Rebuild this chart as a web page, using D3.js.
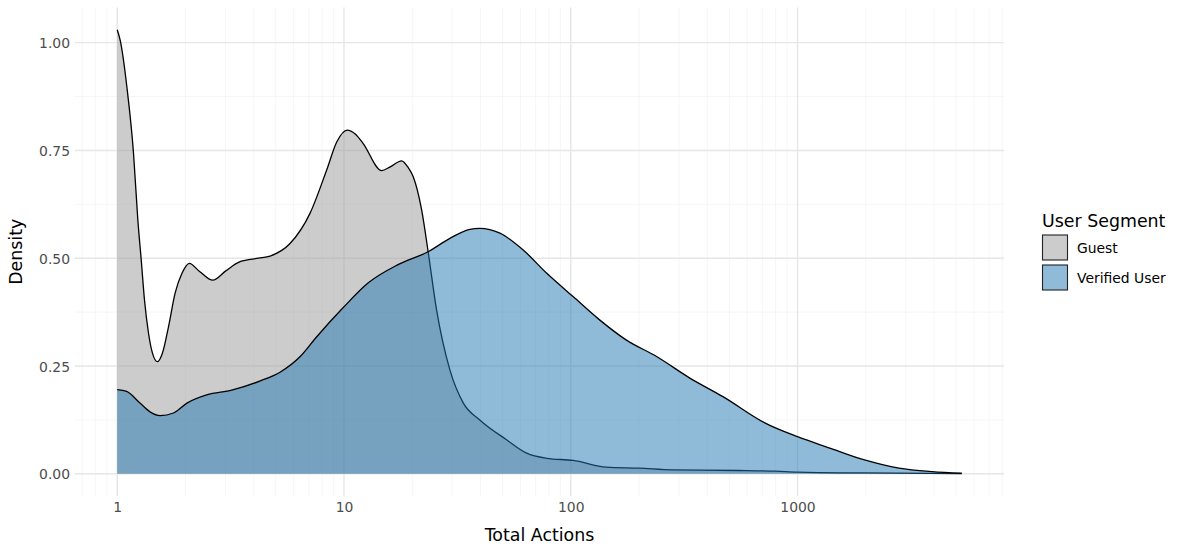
<!DOCTYPE html>
<html>
<head>
<meta charset="utf-8">
<script src="https://cdn.jsdelivr.net/npm/d3@7"></script>
<style>
  html, body { margin: 0; padding: 0; background: #ffffff; }
  svg { display: block; font-family: "DejaVu Sans", sans-serif; }
</style>
</head>
<body>
<svg id="chart" width="1181" height="550"></svg>
<script>
// ---- Data ----
const seriesNames = ["Guest", "Verified User"];
const seriesColors = ["#999999", "#1f77b4"];

const guestX = [1.0, 1.031, 1.103, 1.18, 1.233, 1.276, 1.319, 1.374, 1.43, 1.505, 1.583, 1.683, 1.80, 1.93, 2.08, 2.3, 2.64, 3.0, 3.48, 4.2, 4.72, 5.78, 7.08, 8.38, 9.3, 10.34, 11.2, 12.15, 14.66, 16.0, 17.96, 19.2, 20.2, 22.0, 23.5, 25.6, 29.3, 33.6, 39.7, 52.1, 63.9, 78.4, 102.4, 143.5, 200, 281, 551, 800, 1000, 2000, 5300];
const guestY = [1.030, 1.005, 0.897, 0.743, 0.588, 0.496, 0.403, 0.326, 0.280, 0.260, 0.280, 0.341, 0.419, 0.465, 0.488, 0.470, 0.449, 0.470, 0.492, 0.500, 0.505, 0.534, 0.604, 0.704, 0.770, 0.797, 0.788, 0.766, 0.703, 0.712, 0.726, 0.710, 0.689, 0.612, 0.515, 0.380, 0.241, 0.164, 0.125, 0.079, 0.048, 0.036, 0.031, 0.0155, 0.013, 0.009, 0.0076, 0.006, 0.004, 0.002, 0.0005];

const verifiedX = [1.0, 1.10, 1.26, 1.40, 1.546, 1.77, 2.03, 2.48, 3.2, 4.3, 5.2, 6.41, 7.5, 9.9, 12.8, 17.3, 23.5, 29.3, 35.9, 39.7, 48.7, 61.7, 78.4, 102.4, 134, 176, 239, 335, 469, 724, 1000, 1400, 1975, 2800, 3920, 5300];
const verifiedY = [0.195, 0.191, 0.164, 0.143, 0.135, 0.141, 0.164, 0.183, 0.194, 0.216, 0.235, 0.272, 0.315, 0.385, 0.443, 0.485, 0.515, 0.546, 0.567, 0.569, 0.558, 0.519, 0.465, 0.411, 0.357, 0.310, 0.272, 0.222, 0.179, 0.117, 0.086, 0.059, 0.032, 0.013, 0.005, 0.0015];

const xTicks = [1, 10, 100, 1000];
const xTickLabels = ["1", "10", "100", "1000"];
const yTicks = [0, 0.25, 0.5, 0.75, 1.0];
const yTickLabels = ["0.00", "0.25", "0.50", "0.75", "1.00"];
const xTitle = "Total Actions";
const yTitle = "Density";
const legendTitle = "User Segment";

// ---- Layout ----
const svg = d3.select("#chart");
const panel = { left: 75, right: 1004, top: 7.5, bottom: 496 };

const allX = guestX.concat(verifiedX);
const allY = guestY.concat(verifiedY);
const lx0 = Math.log10(d3.min(allX)), lx1 = Math.log10(d3.max(allX));
const xPad = (lx1 - lx0) * 0.05;
const x = d3.scaleLog()
  .domain([Math.pow(10, lx0 - xPad), Math.pow(10, lx1 + xPad)])
  .range([panel.left, panel.right]);

const yMax = d3.max(allY);
const yPad = yMax * 0.05;
const y = d3.scaleLinear()
  .domain([0 - yPad, yMax + yPad])
  .range([panel.bottom, panel.top]);

// ---- Grid ----
const grid = svg.append("g");
const [xd0, xd1] = x.domain();
const minorX = [];
for (let e = -1; e <= 4; e++) {
  for (let m = 2; m <= 9; m++) {
    const v = m * Math.pow(10, e);
    if (v >= xd0 && v <= xd1) minorX.push(v);
  }
}
const minorY = [0.125, 0.375, 0.625, 0.875];

grid.selectAll(".minx").data(minorX).join("line")
  .attr("x1", d => x(d)).attr("x2", d => x(d))
  .attr("y1", panel.top).attr("y2", panel.bottom)
  .attr("stroke", "#f4f4f4").attr("stroke-width", 0.8);
grid.selectAll(".miny").data(minorY).join("line")
  .attr("x1", panel.left).attr("x2", panel.right)
  .attr("y1", d => y(d)).attr("y2", d => y(d))
  .attr("stroke", "#f4f4f4").attr("stroke-width", 0.8);
grid.selectAll(".majx").data(xTicks).join("line")
  .attr("x1", d => x(d)).attr("x2", d => x(d))
  .attr("y1", panel.top).attr("y2", panel.bottom)
  .attr("stroke", "#e6e6e6").attr("stroke-width", 1.4);
grid.selectAll(".majy").data(yTicks).join("line")
  .attr("x1", panel.left).attr("x2", panel.right)
  .attr("y1", d => y(d)).attr("y2", d => y(d))
  .attr("stroke", "#e6e6e6").attr("stroke-width", 1.4);

// ---- Densities ----
const series = [
  guestX.map((v, i) => ({ x: v, y: guestY[i] })),
  verifiedX.map((v, i) => ({ x: v, y: verifiedY[i] }))
];
const curve = d3.curveMonotoneX;
const area = d3.area()
  .x(d => x(d.x)).y0(y(0)).y1(d => y(d.y))
  .curve(curve);
const line = d3.line()
  .x(d => x(d.x)).y(d => y(d.y))
  .curve(curve);

const plot = svg.append("g");
series.forEach((s, i) => {
  plot.append("path").datum(s)
    .attr("d", area)
    .attr("fill", seriesColors[i]).attr("fill-opacity", 0.5);
  plot.append("path").datum(s)
    .attr("d", line)
    .attr("fill", "none").attr("stroke", "#000").attr("stroke-width", 1.3);
});

// ---- Axes ----
const xAxis = svg.append("g")
  .attr("transform", `translate(0,${panel.bottom + 5})`)
  .call(d3.axisBottom(x).tickValues(xTicks).tickFormat((d, i) => xTickLabels[i]).tickSize(0).tickPadding(0));
xAxis.select(".domain").remove();
xAxis.selectAll("text")
  .attr("dy", null).attr("y", 10.5)
  .attr("fill", "#4d4d4d").style("font-size", "13.9px")
  .style("font-family", "DejaVu Sans");

const yAxis = svg.append("g")
  .attr("transform", `translate(${panel.left - 3},0)`)
  .call(d3.axisLeft(y).tickValues(yTicks).tickFormat((d, i) => yTickLabels[i]).tickSize(0).tickPadding(0));
yAxis.select(".domain").remove();
yAxis.selectAll("text")
  .attr("x", -2).attr("dy", "0.36em")
  .attr("fill", "#4d4d4d").style("font-size", "13.9px")
  .style("font-family", "DejaVu Sans");

svg.append("text")
  .attr("x", (panel.left + panel.right) / 2).attr("y", 541)
  .attr("text-anchor", "middle")
  .style("font-size", "17.4px").attr("fill", "#000")
  .text(xTitle);

svg.append("text")
  .attr("transform", `translate(22,${(panel.top + panel.bottom) / 2}) rotate(-90)`)
  .attr("text-anchor", "middle")
  .style("font-size", "17.4px").attr("fill", "#000")
  .text(yTitle);

// ---- Legend ----
const legend = svg.append("g").attr("transform", "translate(1042,0)");
legend.append("text")
  .attr("x", 0).attr("y", 227)
  .style("font-size", "17.4px").attr("fill", "#000")
  .text(legendTitle);
seriesNames.forEach((name, i) => {
  const top = 235 + i * 30;
  legend.append("rect")
    .attr("x", 0.5).attr("y", top).attr("width", 25).attr("height", 25)
    .attr("fill", seriesColors[i]).attr("fill-opacity", 0.5)
    .attr("stroke", "#222").attr("stroke-width", 1.1);
  legend.append("text")
    .attr("x", 35).attr("y", top + 12.5).attr("dy", "0.36em")
    .style("font-size", "13.9px").attr("fill", "#000")
    .text(name);
});
</script>
</body>
</html>
